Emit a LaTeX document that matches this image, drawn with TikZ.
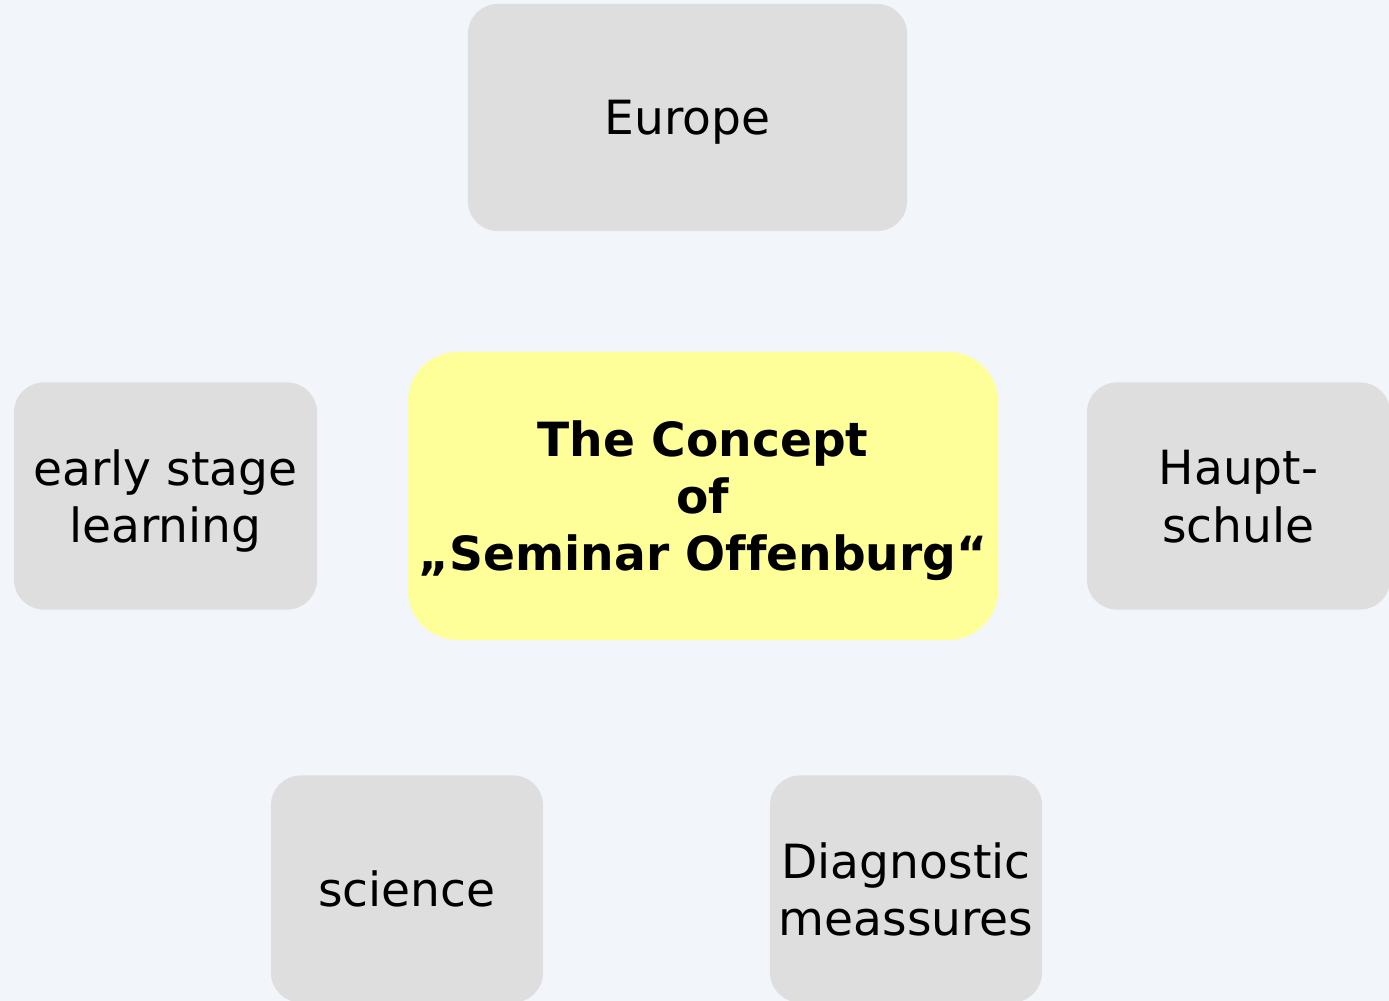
\documentclass[tikz,border=0pt]{standalone}
\usepackage{fontspec}
\setmainfont[Ligatures=NoCommon]{DejaVu Sans}
\usetikzlibrary{positioning}
\definecolor{bgblue}{HTML}{F2F5FA}
\definecolor{boxgray}{HTML}{DEDEDE}
\definecolor{ideayellow}{HTML}{FFFF99}

\begin{document}
\begin{tikzpicture}[x=0.01cm, y=-0.01cm,
    topic/.style={fill=boxgray, rounded corners=0.3cm, align=center, inner sep=0pt,
      minimum width=3.03cm, minimum height=2.27cm, text depth=0pt,
      font=\fontsize{13.4}{16.4}\selectfont},
    concept/.style={fill=ideayellow, rounded corners=0.5cm, align=center, inner sep=0pt,
      minimum width=5.9cm, minimum height=2.88cm, text depth=0pt,
      font=\fontsize{13.4}{16.2}\selectfont\bfseries}]
  %--- Background
    \fill[bgblue] (0,0) rectangle (1389,1001);
    \useasboundingbox (0,0) rectangle (1389,1001);
  %--- Centre
    \node[concept] (seminar) at (703,496) {The Concept\\of\\„Seminar Offenburg“};
  %--- Europe
    \node[topic, minimum width=4.39cm] (europe) at (687.5,117.5) {Europe};
  %--- early stage learning
    \node[topic] (early) at (165.5,496) {early stage\\learning};
  %--- Hauptschule
    \node[topic] (haupt) at (1238.5,496) {Haupt-\\schule};
  %--- science
    \node[topic, minimum width=2.72cm] (science) at (407,889) {science};
  %--- Diagnostic measures
    \node[topic, minimum width=2.72cm] (diagnostic) at (906,889) {Diagnostic\\meassures};
\end{tikzpicture}
\end{document}
